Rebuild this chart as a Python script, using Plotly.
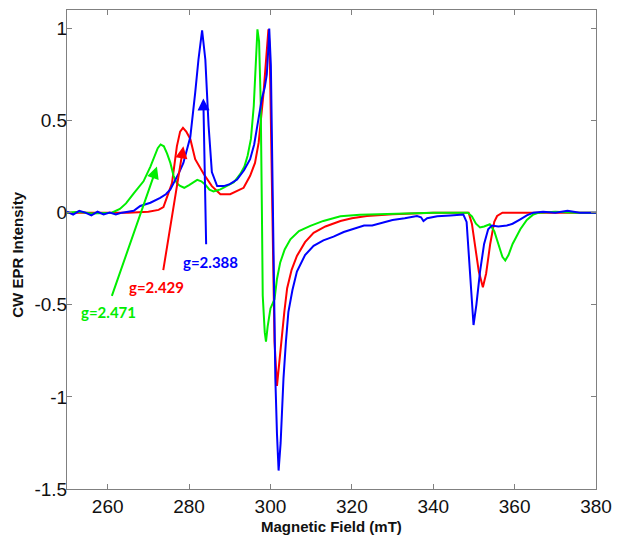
import plotly.graph_objects as go

# ---- data ----
green_x = [250, 253, 256, 259, 261, 263, 264.5, 266.4, 268.8, 270.5, 271.5, 272.3, 273.0, 273.8, 274.6, 275.4,
           276.2, 277.0, 277.8, 278.8, 280, 281, 282, 283, 284, 285, 286, 287.7, 289.3, 291, 292.6, 293.6,
           294.4, 295.2, 295.9, 296.4, 296.8, 297.2, 297.6, 297.9, 298.1, 298.6, 298.9, 299.3, 300.0, 300.6,
           301.0, 301.6, 302.4, 303.5, 304.9, 307, 309.8, 313, 317.2, 322, 330, 340, 345, 348.5, 349.5, 350.5,
           351.5, 352.5, 353.9, 355, 356, 357.0, 357.7, 358.5, 359.5, 361.4, 363, 364.6, 366, 370, 375, 380]
green_y = [0.0, 0.005, -0.005, 0.0, 0.0, 0.02, 0.05, 0.105, 0.17, 0.25, 0.30, 0.35, 0.37, 0.36, 0.32, 0.27,
           0.20, 0.16, 0.145, 0.135, 0.15, 0.165, 0.178, 0.17, 0.152, 0.125, 0.115, 0.126, 0.145, 0.165, 0.21, 0.25,
           0.31, 0.40, 0.58, 0.82, 0.995, 0.93, 0.6, 0.0, -0.45, -0.65, -0.70, -0.62, -0.52, -0.49,
           -0.47, -0.36, -0.27, -0.2, -0.145, -0.1, -0.072, -0.045, -0.02, -0.012, -0.005, 0.0, 0.0, 0.0, -0.02, -0.06,
           -0.08, -0.075, -0.063, -0.1, -0.17, -0.24, -0.26, -0.23, -0.17, -0.09, -0.04, -0.01, 0.0, 0.005, 0.0, 0.0]

red_x = [250, 255, 260, 265, 270, 272.5, 273.7, 274.7, 275.8, 277.0, 277.8, 278.5, 279.3, 280.3, 281.5, 283.6,
         285.6, 287.7, 290.1, 293.4, 295.0, 296.2, 297.1, 298.3, 298.9, 299.5, 299.8, 300.2, 300.6, 301.0, 301.6,
         302.2, 302.8, 303.4, 304.1, 305.2, 306.5, 308.5, 310.6, 313.5, 317.2, 320, 323.7, 330, 340, 347.4, 348.7,
         349.5, 350.3, 351.2, 352.2, 353.0, 354.0, 355.0, 355.7, 357, 365, 380]
red_y = [0.0, 0.0, 0.0, 0.0, 0.005, 0.015, 0.03, 0.09, 0.16, 0.36, 0.44, 0.46, 0.44, 0.40, 0.29, 0.21,
         0.144, 0.1, 0.1, 0.135, 0.2, 0.27, 0.38, 0.65, 0.82, 0.995, 0.9, 0.3, -0.3, -0.7, -0.94,
         -0.8, -0.68, -0.54, -0.41, -0.31, -0.235, -0.16, -0.11, -0.075, -0.045, -0.03, -0.018, -0.008, 0.0, 0.0, 0.0,
         -0.06, -0.18, -0.32, -0.405, -0.33, -0.17, -0.05, -0.018, 0.0, 0.0, 0.0]

blue_x = [250, 251.5, 253, 254.5, 256, 257.5, 259, 260.5, 262, 263.5, 265, 266.4, 268, 270.5, 272.9, 274.3,
          275.4, 276.5, 277.6, 278.6, 280.3, 281.5, 282.3, 283.2, 284.0, 284.8, 285.6, 286.9, 288.5, 290, 291.8,
          293.5, 295.0, 296.0, 296.9, 297.9, 298.6, 299.1, 299.5, 299.7, 300.1, 300.5, 300.8, 301.2, 301.6, 302.0,
          302.5, 303.2, 303.8, 304.4, 305.4, 306.5, 308.5, 310.6, 313, 315.5, 318, 320, 323, 325, 327.8, 330, 333,
          336, 337, 337.6, 338.5, 341, 344.2, 347.4, 348.2, 348.8, 349.4, 349.9, 350.6, 351.5, 352.5, 353.5, 354.4,
          356, 358.1, 359.5, 361.4, 363, 364.6, 367, 370, 373, 376, 380]
blue_y = [0.005, -0.01, 0.01, 0.0, -0.015, 0.005, -0.01, 0.0, -0.01, 0.0, 0.005, 0.01, 0.036, 0.054, 0.08, 0.1,
          0.126, 0.17, 0.22, 0.27, 0.41, 0.65, 0.83, 0.99, 0.83, 0.47, 0.22, 0.144, 0.144, 0.155, 0.18,
          0.23, 0.29, 0.37, 0.5, 0.62, 0.68, 0.75, 0.9, 1.0, 0.8, 0.2, -0.3, -0.9, -1.2, -1.40,
          -1.25, -0.90, -0.7, -0.54, -0.42, -0.32, -0.23, -0.18, -0.15, -0.13, -0.105, -0.09, -0.07, -0.07, -0.054, -0.04, -0.03,
          -0.018, -0.025, -0.045, -0.03, -0.02, -0.015, -0.01, -0.05, -0.25, -0.5, -0.61, -0.5, -0.32, -0.17, -0.09, -0.07,
          -0.075, -0.07, -0.06, -0.036, -0.015, 0.0, 0.005, 0.0, 0.01, 0.0, 0.0]

# g-value markers: label, arrow tail (x, y), arrow head (x, y)
g_labels = ["g=2.471", "g=2.429", "g=2.388"]
g_tail_x = [260.9, 273.6, 284.2]
g_tail_y = [-0.46, -0.32, -0.18]
g_head_x = [272.1, 278.6, 283.5]
g_head_y = [0.25, 0.36, 0.62]
g_text_x = [260.3, 271.9, 285.3]
g_text_y = [-0.54, -0.405, -0.267]

x_ticks = [260, 280, 300, 320, 340, 360, 380]
y_ticks = [-1.5, -1, -0.5, 0, 0.5, 1]
y_ticktext = ["-1.5", "-1", "-0.5", "0", "0.5", "1"]

colors = ["#00ee00", "#ff0000", "#0000ff"]

fig = go.Figure()
fig.add_trace(go.Scatter(x=red_x, y=red_y, mode="lines", line=dict(color=colors[1], width=2), showlegend=False))
fig.add_trace(go.Scatter(x=green_x, y=green_y, mode="lines", line=dict(color=colors[0], width=2), showlegend=False))
fig.add_trace(go.Scatter(x=blue_x, y=blue_y, mode="lines", line=dict(color=colors[2], width=2), showlegend=False))

for i in range(3):
    fig.add_annotation(x=g_head_x[i], y=g_head_y[i], ax=g_tail_x[i], ay=g_tail_y[i],
                       xref="x", yref="y", axref="x", ayref="y", text="", showarrow=True,
                       arrowhead=2, arrowsize=1.2, arrowwidth=2, arrowcolor=colors[i])
    fig.add_annotation(x=g_text_x[i], y=g_text_y[i], xref="x", yref="y", text=g_labels[i], showarrow=False,
                       font=dict(family="Lato", size=15, color=colors[i], weight="bold"))

fig.add_annotation(x=0.5, y=-0.079, xref="paper", yref="paper", text="<b>Magnetic Field (mT)</b>",
                   showarrow=False, yanchor="middle",
                   font=dict(family="Liberation Sans, Arial", size=15, color="#111"))
fig.add_annotation(x=-0.0936, y=0.49, xref="paper", yref="paper", text="<b>CW EPR Intensity</b>",
                   showarrow=False, textangle=-90, xanchor="center", yanchor="middle",
                   font=dict(family="Liberation Sans, Arial", size=15, color="#111"))

axis_common = dict(showline=True, linecolor="#808080", linewidth=1, mirror="ticks", ticks="inside",
                   ticklen=5, tickcolor="#808080", showgrid=False, zeroline=False, automargin=False,
                   tickfont=dict(family="Liberation Sans, Arial", size=19, color="#111"))
fig.update_xaxes(range=[250, 380], tickvals=x_ticks, **axis_common)
fig.update_yaxes(range=[-1.5, 1.1], tickvals=y_ticks, ticktext=y_ticktext, ticklabelstandoff=-5, **axis_common)

# the page body adds an 8 px margin, so the figure is sized to fit inside the 621x547 window
fig.update_layout(template="none", width=605, height=531, margin=dict(l=59, r=17, t=2, b=50),
                  paper_bgcolor="white", plot_bgcolor="white")

fig.write_html("out.html")
